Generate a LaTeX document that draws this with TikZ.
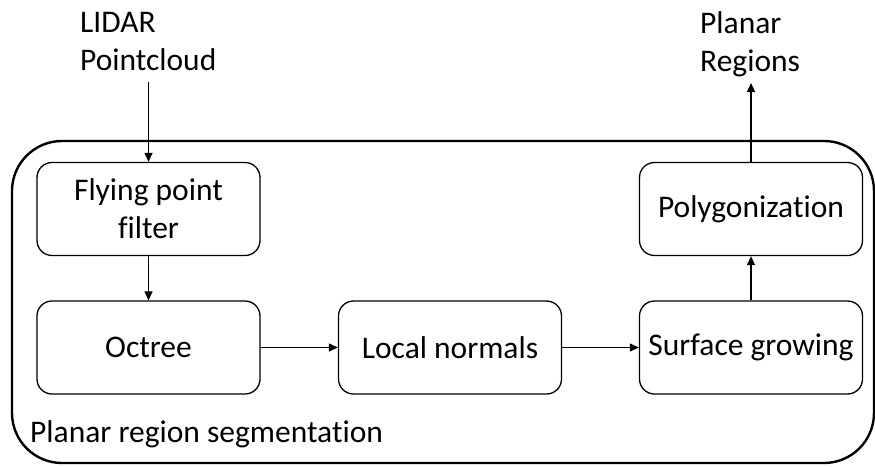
\documentclass[tikz,border=0pt]{standalone}
\usepackage{fontspec}
\setmainfont{Carlito}[Ligatures=NoCommon]
\usetikzlibrary{arrows.meta}
\tikzset{
  stage/.style={draw, line width=1.3pt, rounded corners=15pt, minimum width=223pt,
    minimum height=93pt, align=center, inner sep=0pt},
  flow/.style={line width=1.2pt, -{Triangle[length=9pt,width=8pt]}},
  label/.style={align=left, anchor=north west, inner sep=0pt},
  txt/.style={font=\fontsize{31.5}{38}\selectfont}
}
\begin{document}
\begin{tikzpicture}[x=1pt, y=-1pt, txt]
\useasboundingbox (0,0) rectangle (875,466);

% enclosing segmentation block
\node[draw, line width=2.4pt, rounded corners=50pt, minimum width=862pt,
  minimum height=322pt, inner sep=0pt] (frame) at (443,302) {};
\node[anchor=base west, inner sep=0pt] (framelabel) at (30,442) {Planar region segmentation};

% processing stages
\node[stage] (fly)  at (148.5,209) {Flying point\\filter};
\node[stage] (oct)  at (148.5,347.5) {Octree};
\node[stage] (norm) at (450,347.5) {Local normals};
\node[stage] (grow) at (751,347.5) {Surface growing};
\node[stage] (poly) at (751,209) {Polygonization};

% input and output
\node[label] (input)  at (80,12) {LIDAR\\Pointcloud};
\node[label] (output) at (700,11) {Planar\\Regions};
\coordinate (inend) at (148.5,82);
\coordinate (outend) at (751,83);

% connectors
\draw[flow] (inend) -- (fly.north);
\draw[flow] (fly.south) -- (oct.north);
\draw[flow] (oct.east) -- (norm.west);
\draw[flow] (norm.east) -- (grow.west);
\draw[flow] (grow.north) -- (poly.south);
\draw[flow] (poly.north) -- (outend);
\end{tikzpicture}
\end{document}
